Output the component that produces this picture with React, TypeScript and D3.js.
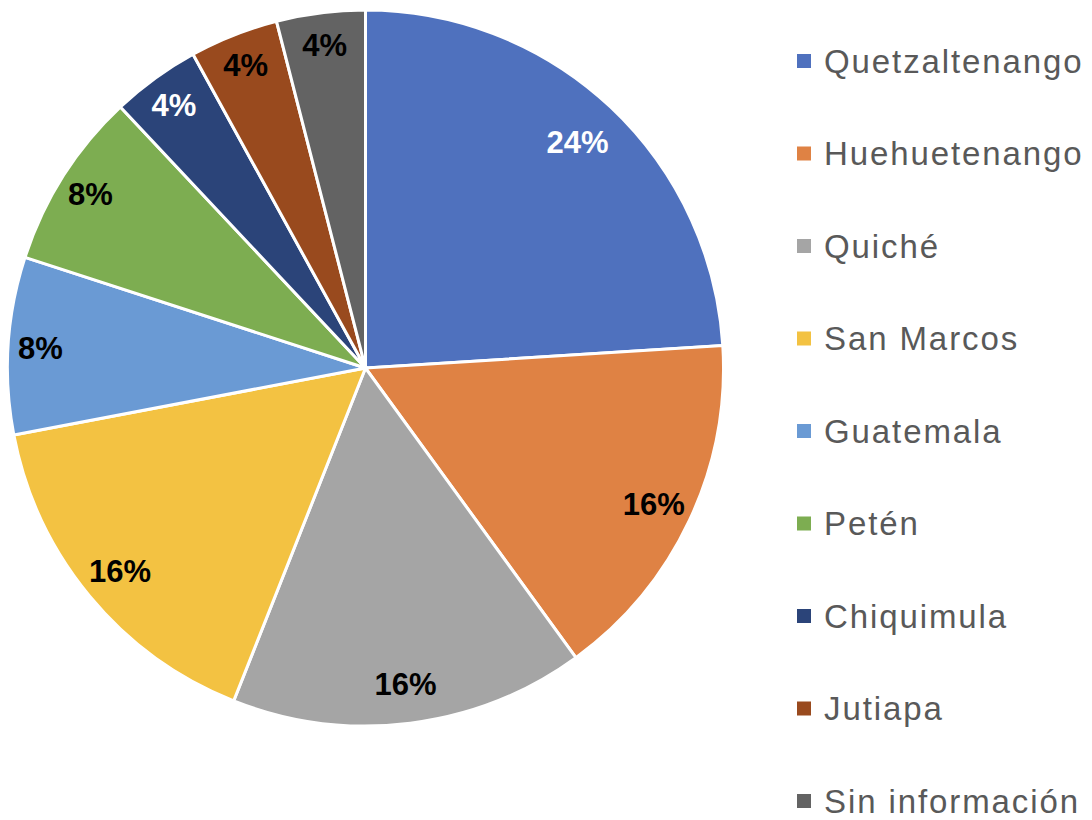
import React from 'react';
import * as d3 from 'd3';

const categories = ['Quetzaltenango', 'Huehuetenango', 'Quiché', 'San Marcos', 'Guatemala', 'Petén', 'Chiquimula', 'Jutiapa', 'Sin información'];
const values = [24, 16, 16, 16, 8, 8, 4, 4, 4];
const colors = ['#4f71be', '#df8244', '#a5a5a5', '#f3c242', '#6a9ad4', '#7dad51', '#2b4479', '#994a1e', '#636363'];
const labelColors = ['#fff', '#000', '#000', '#000', '#000', '#000', '#fff', '#000', '#000'];

export default function App() {
  const width = 1092;
  const height = 820;
  const cx = 365.5;
  const cy = 368;
  const radius = 358;

  const data = categories.map((c, i) => ({ name: c, value: values[i], color: colors[i], label: labelColors[i] }));
  const pie = d3.pie<any>().sort(null).value((d) => d.value);
  const arcs = pie(data);
  const arc = d3.arc<any>().innerRadius(0).outerRadius(radius);
  // big slices get their label a bit further in, like Excel's best fit
  const labelR = (v: number) => (v >= 20 ? radius * 0.865 : v >= 10 ? radius * 0.89 : radius * 0.91);

  // legend rows
  const legendY = d3.scaleLinear().domain([0, categories.length - 1]).range([61, 801]);

  return (
    <svg width={width} height={height} style={{ position: 'absolute', left: 0, top: 0, background: '#fff' }}>
      <g transform={`translate(${cx}, ${cy})`}>
        {arcs.map((a, i) => (
          <path key={i} d={arc(a) as string} fill={a.data.color} stroke="#fff" strokeWidth={3} />
        ))}
        {arcs.map((a, i) => {
          const r = labelR(a.data.value);
          const [x, y] = d3.arc<any>().innerRadius(r).outerRadius(r).centroid(a);
          return (
            <text key={'l' + i} x={x} y={y} dy="0.36em" textAnchor="middle" fill={a.data.label}
              fontFamily="Liberation Sans, Arial, sans-serif" fontWeight="bold" fontSize={31}>
              {a.data.value}%
            </text>
          );
        })}
      </g>
      {categories.map((c, i) => (
        <g key={'g' + i} transform={`translate(797, ${legendY(i)})`}>
          <rect x={0} y={-7} width={14} height={14} fill={colors[i]} />
          <text x={27} y={0} dy="0.36em" fill="#595959" fontFamily="Liberation Sans, Arial, sans-serif"
            fontSize={33} letterSpacing={1.9}>
            {c}
          </text>
        </g>
      ))}
    </svg>
  );
}
